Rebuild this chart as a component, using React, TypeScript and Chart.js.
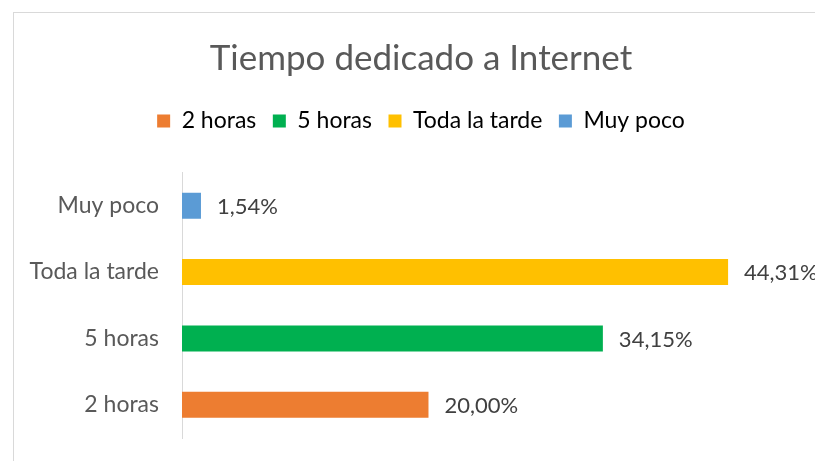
import React, { useEffect, useRef } from "react";
import { Chart, registerables } from "chart.js";

Chart.register(...registerables);

const categories = ["2 horas", "5 horas", "Toda la tarde", "Muy poco"];
const values = [20.0, 34.15, 44.31, 1.54];
const colors = ["#ED7D31", "#00B050", "#FFC000", "#5B9BD5"];
const chartTitle = "Tiempo dedicado a Internet";

const FONT = "Lato";

const frame = {
  id: "frame",
  beforeDraw(chart: any) {
    const ctx = chart.ctx;
    ctx.save();
    ctx.strokeStyle = "#D9D9D9";
    ctx.lineWidth = 1;
    ctx.strokeRect(13.5, 12.5, chart.width + 40, chart.height + 40);
    ctx.restore();
  },
};

const valueLabels = {
  id: "valueLabels",
  afterDatasetsDraw(chart: any) {
    const ctx = chart.ctx;
    const meta = chart.getDatasetMeta(0);
    ctx.save();
    ctx.font = `22px ${FONT}`;
    ctx.fillStyle = "#404040";
    ctx.textAlign = "left";
    ctx.textBaseline = "middle";
    meta.data.forEach((bar: any, i: number) => {
      const txt = values[i].toFixed(2).replace(".", ",") + "%";
      ctx.fillText(txt, bar.x + 16, bar.y + 1);
    });
    ctx.restore();
  },
};

const legendSpacer = {
  id: "legendSpacer",
  beforeInit(chart: any) {
    const lg = chart.legend;
    if (!lg) return;
    const orig = lg.fit;
    lg.fit = function () {
      orig.call(lg);
      lg.height += 30;
    };
  },
};

export default function App() {
  const ref = useRef<HTMLCanvasElement>(null);
  useEffect(() => {
    if (!ref.current) return;
    const chart = new Chart(ref.current, {
      type: "bar",
      data: {
        labels: categories,
        datasets: [
          {
            data: values,
            backgroundColor: colors,
            borderWidth: 0,
            barPercentage: 0.39,
            categoryPercentage: 1,
          },
        ],
      },
      options: {
        indexAxis: "y",
        responsive: false,
        animation: false,
        layout: { padding: { left: 29, right: 2, top: 0, bottom: 23 } },
        scales: {
          x: { display: false, min: 0, max: 51.2 },
          y: {
            reverse: true,
            grid: {
              display: true,
              color: "rgba(0,0,0,0)",
              drawOnChartArea: false,
              drawTicks: true,
              tickLength: 23,
            },
            border: { display: true, color: "#D9D9D9", width: 1 },
            ticks: { color: "#595959", font: { family: FONT, size: 23 }, padding: 0 },
            afterFit(scale: any) {
              scale.width = 153;
            },
          },
        },
        plugins: {
          title: {
            display: true,
            text: chartTitle,
            color: "#595959",
            font: { family: FONT, size: 35, weight: "normal" },
            padding: { top: 37.6, bottom: 13.4 },
          },
          legend: {
            display: true,
            position: "top",
            labels: {
              color: "#595959",
              font: { family: FONT, size: 23 },
              boxWidth: 13,
              boxHeight: 13,
              padding: 16.5,
              generateLabels: () =>
                categories.map((c, i) => ({
                  text: c,
                  fillStyle: colors[i],
                  strokeStyle: colors[i],
                  lineWidth: 0,
                  hidden: false,
                  index: i,
                  datasetIndex: 0,
                })),
            },
            onClick: () => {},
          },
          tooltip: { enabled: false },
        },
      },
      plugins: [frame, valueLabels, legendSpacer],
    } as any);
    return () => chart.destroy();
  }, []);
  return (
    <div style={{ position: "absolute", left: 0, top: 0, width: 815, height: 461, background: "#fff" }}>
      <canvas ref={ref} width={815} height={461} style={{ display: "block" }} />
    </div>
  );
}
